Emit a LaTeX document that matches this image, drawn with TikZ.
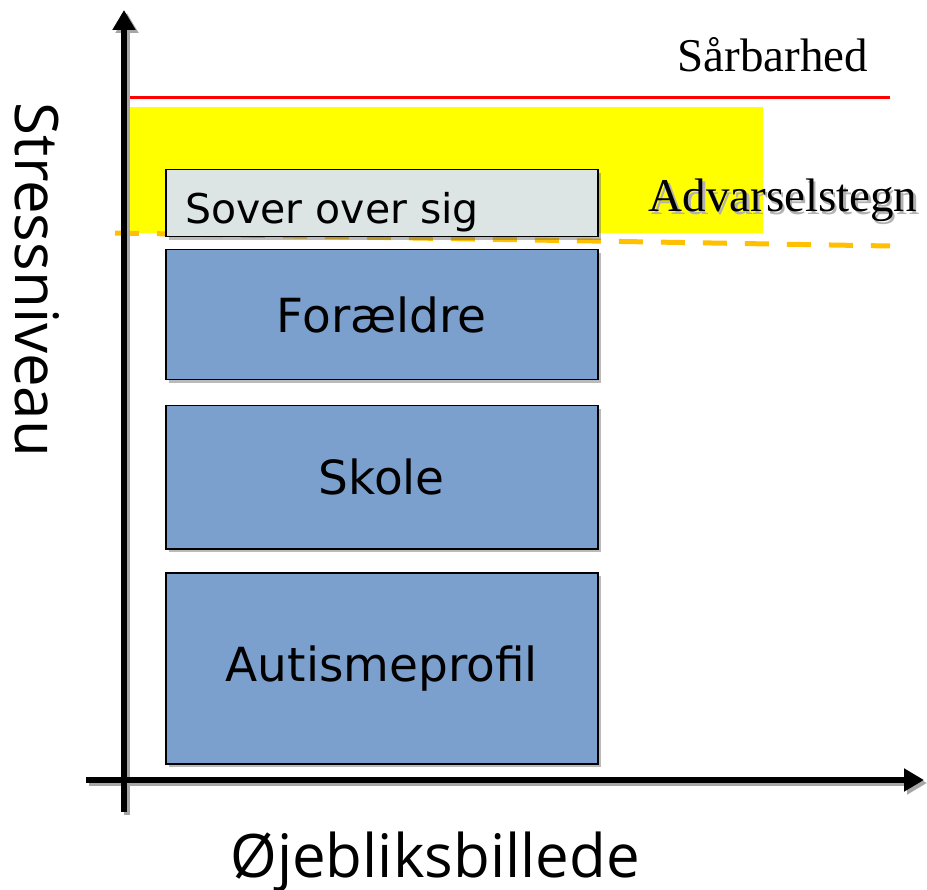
\documentclass[tikz,border=0pt]{standalone}
\usepackage{fontspec}
\setmainfont{Liberation Serif}
\newfontfamily\boxfont{DejaVu Sans}
\newfontfamily\axisfont{Open Sans}
\usetikzlibrary{arrows.meta,shadows}
\definecolor{boxblue}{HTML}{7BA0CE}
\definecolor{boxgray}{HTML}{DCE4E4}
\definecolor{warnorange}{HTML}{FFC000}
\definecolor{bandyellow}{HTML}{FFFF00}
\newcommand{\shadowtext}[1]{\makebox[0pt][l]{\hspace{2.5pt}\raisebox{-2.5pt}{\textcolor{black!30}{#1}}}#1}
\begin{document}
\begin{tikzpicture}[x=1pt,y=-1pt,
  shad/.style={drop shadow={shadow xshift=3pt,shadow yshift=-3pt,opacity=0.45,fill=black!60}},
  bluebox/.style={draw=black,line width=1.5pt,fill=boxblue,minimum width=432pt,anchor=north west,inner sep=0pt,shad,font=\boxfont\fontsize{47}{50}\selectfont},
  axisline/.style={line width=6pt,-{Triangle[length=20pt,width=22pt]}},
  axisshadow/.style={line width=6pt,draw=black!35,-{Triangle[length=20pt,width=22pt]}},
  serlabel/.style={font=\fontsize{47}{50}\selectfont,inner sep=0pt},
  axlabel/.style={font=\axisfont\fontsize{60}{63}\selectfont,inner sep=0pt}]
\useasboundingbox (0,0) rectangle (927,890);
% threshold lines and warning band
\fill[bandyellow] (130,107) rectangle (763,233);
\coordinate (rl) at (130,98);
\coordinate (rr) at (890,98);
\draw[red,line width=3pt] (rl) -- (rr);
\coordinate (dl) at (115,233);
\coordinate (dr) at (890,246);
\draw[warnorange,line width=5pt,dash pattern=on 24pt off 18pt] (dl) -- (dr);
% boxes
\node[draw=black,line width=1.5pt,fill=boxgray,minimum width=432pt,minimum height=67pt,anchor=north west,inner sep=0pt,shad] (sover) at (165,169) {};
\node[font=\boxfont\fontsize{41}{44}\selectfont,anchor=base west,inner sep=0pt] (sovertxt) at (185,224) {Sover over sig};
\node[bluebox,minimum height=130pt] (foraeldre) at (165,249) {Forældre};
\node[bluebox,minimum height=143pt] (skole) at (165,405) {Skole};
\node[bluebox,minimum height=191pt] (autisme) at (165,572) {Autismeprofil};
% axes
\coordinate (yb) at (124,812);
\coordinate (yt) at (124,10);
\coordinate (xl) at (86,780);
\coordinate (xr) at (924,780);
\coordinate (ybs) at (127,815);
\coordinate (yts) at (127,13);
\coordinate (xls) at (89,783);
\coordinate (xrs) at (927,783);
\draw[axisshadow] (ybs) -- (yts);
\draw[axisshadow] (xls) -- (xrs);
\draw[axisline] (yb) -- (yt);
\draw[axisline] (xl) -- (xr);
% labels
\node[serlabel,anchor=base] (sarbar) at (773,72) {Sårbarhed};
\node[serlabel,anchor=base] (adv) at (783,212) {\shadowtext{Advarselstegn}};
\node[axlabel,rotate=-90,anchor=base] (stress) at (16,280) {Stressniveau};
\node[axlabel,anchor=base] (ojeb) at (435,877) {Øjebliksbillede};
\end{tikzpicture}
\end{document}
